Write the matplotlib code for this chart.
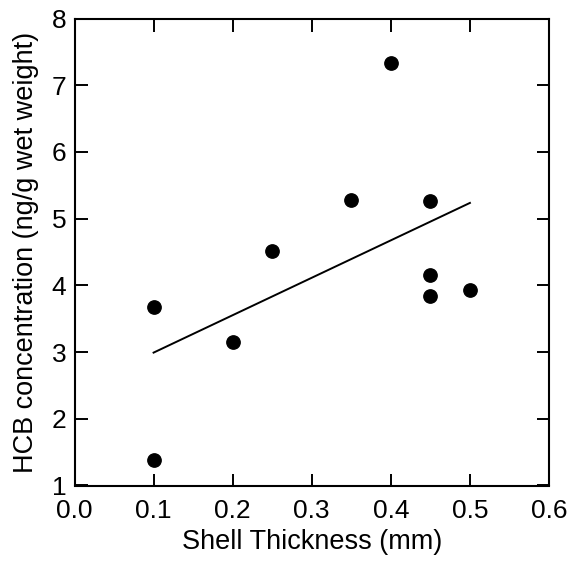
import matplotlib
matplotlib.use("Agg")
import matplotlib.pyplot as plt
import numpy as np

plt.rcParams['font.family'] = ['Liberation Sans', 'DejaVu Sans']

shell_thickness = [0.1, 0.1, 0.2, 0.25, 0.35, 0.4, 0.45, 0.45, 0.45, 0.5]
hcb = [1.38, 3.68, 3.15, 4.52, 5.28, 7.33, 5.27, 4.16, 3.84, 3.93]
x_ticks = [0.0, 0.1, 0.2, 0.3, 0.4, 0.5, 0.6]
y_ticks = [1, 2, 3, 4, 5, 6, 7, 8]

fig = plt.figure(figsize=(5.71, 5.66), dpi=100)
ax = fig.add_axes([74.5/571, 1-485.5/566, 474.5/571, 467/566])

ax.plot(shell_thickness, hcb, 'o', color='black', markersize=9.6, zorder=3)
slope, intercept = np.polyfit(shell_thickness, hcb, 1)
xl = np.array([min(shell_thickness), max(shell_thickness)])
ax.plot(xl, slope*xl + intercept, color='black', linewidth=1.4)

ax.set_xlim(0, 0.6)
ax.set_ylim(1, 8)
ax.set_xticks(x_ticks)
ax.set_xticklabels([f"{v:.1f}" for v in x_ticks])
ax.set_yticks(y_ticks)
ax.tick_params(direction='in', length=9, width=1.4, labelsize=19, top=True, right=True)
ax.tick_params(axis='x', pad=10)
ax.tick_params(axis='y', pad=6)
for s in ax.spines.values():
    s.set_linewidth(1.5)
ax.set_xlabel('Shell Thickness (mm)', fontsize=19.5, labelpad=4)
ax.set_ylabel('HCB concentration (ng/g wet weight)', fontsize=19.5, labelpad=9)

fig.savefig('out.png', dpi=100)
